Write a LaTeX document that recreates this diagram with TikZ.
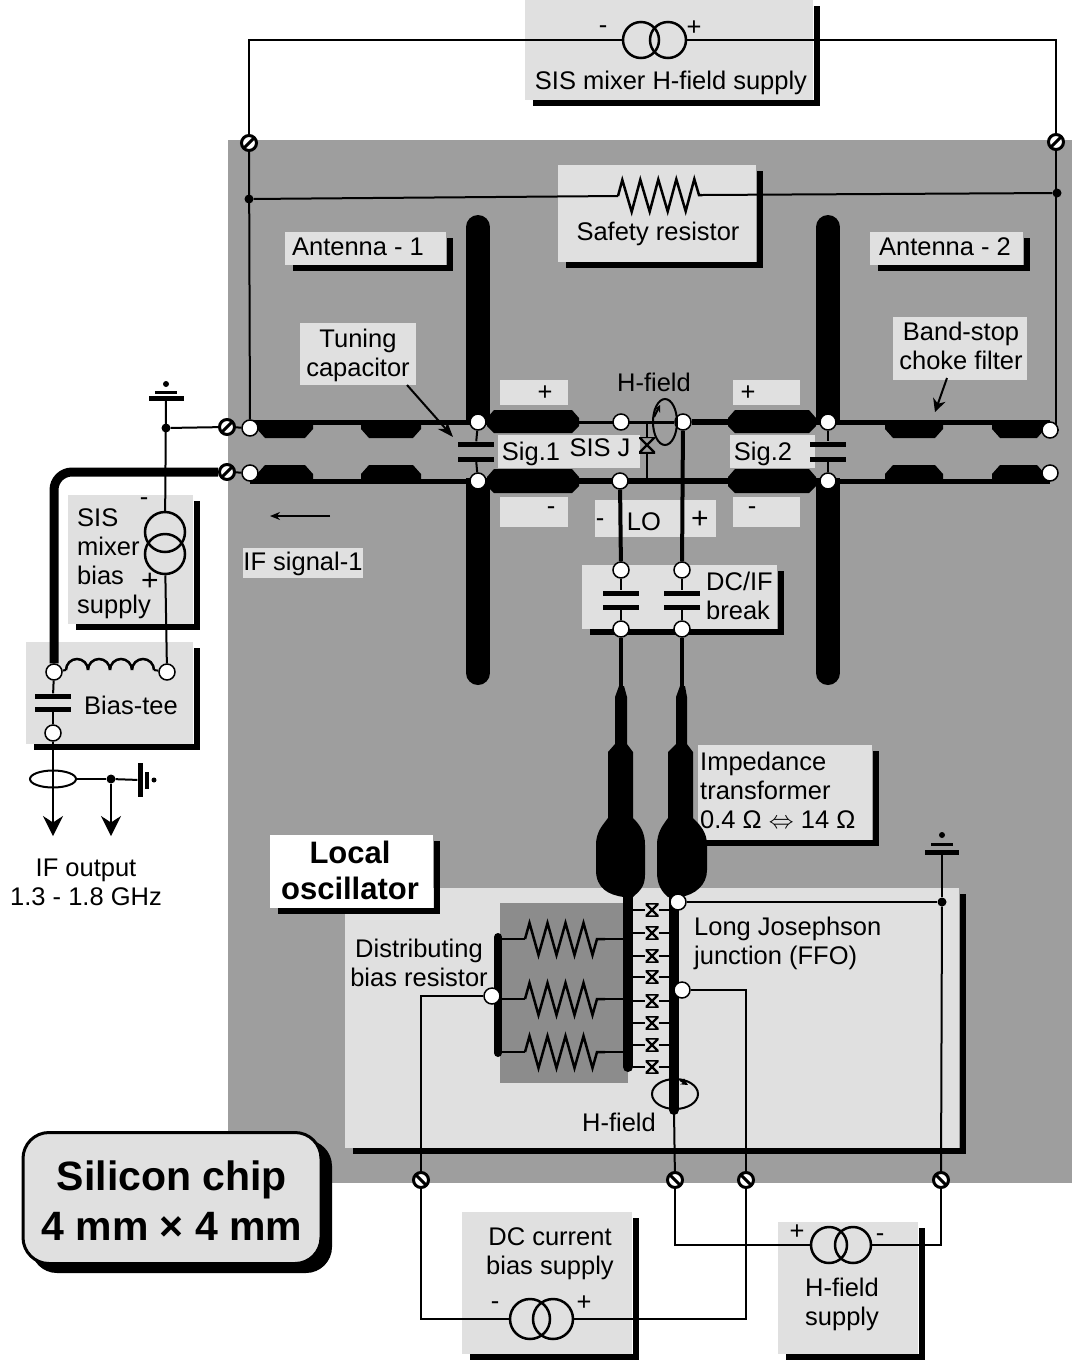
\documentclass[tikz,border=0pt]{standalone}
\usepackage{fontspec}
\setmainfont{Liberation Sans}
\usetikzlibrary{arrows.meta,decorations.pathmorphing,shapes.geometric}
\pgfdeclarelayer{back}
\pgfdeclarelayer{wires}
\pgfsetlayers{back,wires,main}
\definecolor{chipgray}{gray}{.62}
\definecolor{darkgray}{gray}{.55}
\definecolor{palegray}{gray}{.88}
\tikzset{
  tag/.style={inner sep=0pt,align=center,font=\fontsize{25.5}{29}\selectfont},
  sign/.style={inner sep=0pt,font=\fontsize{30}{30}\selectfont},
  wire/.style={line width=2pt},
  rail/.style={line width=5pt},
  feed/.style={line width=4pt},
  term/.style={circle,draw,fill=white,line width=1.5pt,minimum size=16pt,inner sep=0pt},
  dotnode/.style={circle,fill=black,minimum size=9pt,inner sep=0pt},
  screw/.style={circle,draw,fill=white,line width=3pt,minimum size=15pt,inner sep=0pt,
    path picture={\draw[line width=3pt] (path picture bounding box.south west) -- (path picture bounding box.north east);}},
  screwb/.style={circle,draw,fill=white,line width=3pt,minimum size=15pt,inner sep=0pt,
    path picture={\draw[line width=3pt] (path picture bounding box.north west) -- (path picture bounding box.south east);}},
  plate/.style={fill=black,minimum width=36pt,minimum height=5pt,inner sep=0pt},
  source/.style={circle,draw,line width=2.5pt,inner sep=0pt},
  jj/.style={minimum size=13pt,inner sep=0pt,
    path picture={\draw[line width=2.4pt] (path picture bounding box.south west) -- (path picture bounding box.north east) -- (path picture bounding box.north west) -- (path picture bounding box.south east) -- cycle;}},
  resistor/.style={decorate,decoration={zigzag,segment length=18pt,amplitude=16pt}},
  bigtip/.style={-{Stealth[length=20pt,width=20pt]}},
  shade/.style={line width=6pt}
}
\begin{document}
\begin{tikzpicture}[x=1pt,y=-1pt]
  \useasboundingbox (0,0) rectangle (1072,1361);
  % grounds and backgrounds
  \begin{pgfonlayer}{back}
    \fill[chipgray] (228,140) rectangle (1072,1183);
    \foreach \xa/\ya/\xb/\yb in {525/0/813/100,558/165/756/262,285/232/446/265,870/232/1023/265,
      698/745/872/840,582/565/777/629,68/495/193/624,26/642/193/744,
      462/1212/632/1354,778/1222/918/1354,345/888/959/1148} {
      \fill[palegray] (\xa,\ya) rectangle (\xb,\yb);
      \draw[shade] (\xa+8,\yb+3) -| (\xb+4,\ya+6);
    }
    \foreach \xa/\ya/\xb/\yb in {300/323/416/385,893/317/1027/380,243/548/363/578,500/380/568/405,
      733/380/800/405,500/497/568/527,733/497/800/527,595/500/716/537,498/435/640/468,730/435/815/468} {
      \fill[palegray] (\xa,\ya) rectangle (\xb,\yb);
    }
    \fill[darkgray] (500,903) rectangle (628,1083);
    \fill[white] (270,835) rectangle (433,908);
    \draw[shade] (278,911) -| (437,841);
    \fill[rounded corners=26pt] (31,1140) rectangle (332,1273);
  \end{pgfonlayer}

  % antenna terminals and rails
  \node[term] (tla) at (250,428) {};
  \node[term] (tlb) at (250,473) {};
  \node[term] (taa) at (478,422) {};
  \node[term] (tab) at (478,481) {};
  \node[term] (tma) at (621,422) {};
  \node[term,path picture={\fill ([xshift=-3pt]path picture bounding box.center) circle (7);}] (tmb) at (683,422) {};
  \node[term] (tmc) at (620,481) {};
  \node[term] (tca) at (828,422) {};
  \node[term] (tcb) at (828,481) {};
  \node[term] (tra) at (1050,430) {};
  \node[term] (trb) at (1050,473) {};
  \node[plate] (capaa) at (476,444) {};
  \node[plate] (capab) at (476,459) {};
  \node[plate] (capca) at (828,444) {};
  \node[plate] (capcb) at (828,459) {};

  % screws
  \node[screw] (scra) at (249,143) {};
  \node[screw] (scrb) at (1056,142) {};
  \node[screw] (scrc) at (227,427) {};
  \node[screw] (scrd) at (227,472) {};
  \node[screwb] (scre) at (421,1180) {};
  \node[screwb] (scrf) at (675,1180) {};
  \node[screwb] (scrg) at (746,1180) {};
  \node[screwb] (scrh) at (941,1180) {};

  % supplies
  \node[source,minimum size=36pt] (srcta) at (641,40) {};
  \node[source,minimum size=36pt] (srctb) at (668,40) {};
  \node[source,minimum size=40pt] (srcda) at (530,1319) {};
  \node[source,minimum size=40pt] (srcdb) at (553,1319) {};
  \node[source,minimum size=36pt] (srcha) at (829,1245) {};
  \node[source,minimum size=36pt] (srchb) at (853,1245) {};
  \node[source,minimum size=40pt] (srcsa) at (165,532) {};
  \node[source,minimum size=40pt] (srcsb) at (165,554) {};

  % safety resistor
  \node[dotnode] (sfa) at (249,199) {};
  \node[dotnode] (sfb) at (1057,193) {};
  \coordinate (rsa) at (618,196);
  \coordinate (rsb) at (702,195);

  % grounds, left side
  \node[dotnode,minimum size=6pt] (gla) at (166,384) {};
  \node[fill=black,minimum width=22pt,minimum height=3pt,inner sep=0pt] (glb) at (166,392) {};
  \node[fill=black,minimum width=35pt,minimum height=5pt,inner sep=0pt] (glc) at (166,398) {};
  \node[dotnode] (dotl) at (166,428) {};
  \node[term] (tbl) at (54,672) {};
  \node[term] (tbr) at (167,672) {};
  \node[term] (tbo) at (53,733) {};
  \node[plate] (capba) at (53,696) {};
  \node[plate] (capbb) at (53,709) {};
  \node[draw,ellipse,wire,minimum width=46pt,minimum height=17pt,inner sep=0pt] (ifring) at (53,779) {};
  \node[dotnode] (dotif) at (111,779) {};
  \node[fill=black,minimum width=5pt,minimum height=34pt,inner sep=0pt] (gifa) at (140,780) {};
  \node[fill=black,minimum width=4pt,minimum height=17pt,inner sep=0pt] (gifb) at (147,780) {};
  \node[dotnode,minimum size=5pt] (gifc) at (154,780) {};
  \coordinate (ifa) at (53,836);
  \coordinate (ifb) at (111,836);

  % DC/IF break
  \node[term] (tda) at (621,570) {};
  \node[term] (tdb) at (682,570) {};
  \node[term] (tdc) at (621,629) {};
  \node[term] (tdd) at (682,629) {};
  \node[plate] (capda) at (621,593) {};
  \node[plate] (capdb) at (621,607) {};
  \node[plate] (capea) at (682,593) {};
  \node[plate] (capeb) at (682,607) {};

  % local oscillator
  \node[term] (tfa) at (678,902) {};
  \node[term] (tfb) at (682,990) {};
  \node[term] (tfr) at (492,996) {};
  \node[dotnode] (dotg) at (942,902) {};
  \node[dotnode,minimum size=6pt] (gga) at (942,835) {};
  \node[fill=black,minimum width=22pt,minimum height=3pt,inner sep=0pt] (ggb) at (942,844) {};
  \node[fill=black,minimum width=34pt,minimum height=5pt,inner sep=0pt] (ggc) at (942,852) {};
  \foreach \y in {910,933,956,977,1001,1023,1045,1067} {
    \node[jj] (ffo\y) at (652,\y) {};
  }
  \node[jj,minimum size=16pt] (sisj) at (647,445) {};
  \node[draw,ellipse,wire,minimum width=24pt,minimum height=46pt,inner sep=0pt] (hfa) at (665,422) {};
  \node[draw,ellipse,wire,minimum width=46pt,minimum height=30pt,inner sep=0pt] (hfb) at (675,1094) {};

  \begin{pgfonlayer}{wires}
    % vertical antennas
    \foreach \x in {478,828} {
      \draw[line width=24pt,line cap=round] (\x,227) -- (\x,400);
      \draw[line width=24pt] (\x,395) -- (\x,425);
      \draw[line width=24pt] (\x,478) -- (\x,510);
      \draw[line width=24pt,line cap=round] (\x,505) -- (\x,673);
    }
    % rails
    \draw[rail] (tla |- taa) -- (taa);
    \draw[rail] (tlb |- tab) -- (tab);
    \draw[rail] (tca) -- (tra |- tca);
    \draw[rail] (tcb) -- (trb |- tcb);
    \draw[wire,line width=3pt] (taa) -- (tmb);
    \draw[rail,line width=6pt] (tmb) -- (tca);
    \draw[rail,line width=6pt] (tab) -- (tcb);
    \foreach \xa/\xb in {257/313,361/421,885/943,992/1045} {
      \fill (\xa,420) -- (\xb,420) -- (\xb,429) -- (\xb-8,438) -- (\xa+8,438) -- (\xa,429) -- cycle;
      \fill (\xa,482) -- (\xb,482) -- (\xb,474) -- (\xb-8,465) -- (\xa+8,465) -- (\xa,474) -- cycle;
    }
    \foreach \xa/\xb in {487/579,728/816} {
      \fill (\xa+7,410) -- (\xb-7,410) -- (\xb,418) -- (\xb,426) -- (\xb-7,433) -- (\xa+7,433) -- (\xa,426) -- (\xa,418) -- cycle;
      \fill (\xa+7,469) -- (\xb-7,469) -- (\xb,477) -- (\xb,486) -- (\xb-7,493) -- (\xa+7,493) -- (\xa,486) -- (\xa,477) -- cycle;
    }
    \draw[wire] (taa) -- (capaa);
    \draw[wire] (capab) -- (tab);
    \draw[wire] (tca) -- (capca);
    \draw[wire] (capcb) -- (tcb);
    \draw[wire] (sisj |- tma) -- (sisj);
    \draw[wire] (sisj) -- (sisj |- tmc);
    % chip supply wires
    \draw[wire] (scra) |- (srcta);
    \draw[wire] (scrb) |- (srctb);
    \draw[wire] (scra) -- (tla);
    \draw[wire] (scrb) |- (tra);
    \draw[wire] (sfa) -- (rsa);
    \draw[wire,line width=2.5pt,resistor] (rsa) -- (rsb);
    \draw[wire] (rsb) -- (sfb);
    % IF side
    \draw[wire] (glc) -- (srcsa);
    \draw[wire] (srcsb) -- (tbr);
    \draw[wire] (dotl) -- (scrc);
    \draw[wire] (scrc) -- (tla);
    \draw[wire] (scrd) -- (tlb);
    \draw[line width=9pt,rounded corners=18pt] (scrd) -| (tbl);
    \foreach \x in {66,88,110,132} {
      \draw[wire,line width=2.5pt] (\x,670) arc (180:360:11);
    }
    \draw[wire] (tbl) -- (66,670);
    \draw[wire] (154,670) -- (tbr);
    \draw[wire] (tbl) -- (capba);
    \draw[wire] (capbb) -- (tbo);
    \draw[wire,bigtip] (tbo) -- (ifa);
    \draw[wire] (ifring) -- (dotif);
    \draw[wire] (dotif) -- (gifa);
    \draw[wire,bigtip] (dotif) -- (ifb);
    % LO feed
    \draw[feed] (tmc) -- (tda);
    \draw[feed] (tmb) -- (tdb);
    \draw[wire] (tda) -- (capda);
    \draw[wire] (capdb) -- (tdc);
    \draw[wire] (tdb) -- (capea);
    \draw[wire] (capeb) -- (tdd);
    \draw[feed] (tdc) -- ++(0,62);
    \draw[feed] (tdd) -- ++(0,62);
    % impedance transformer
    \fill (619,686) -- (624,686) -- (627,697) -- (627,744) -- (633,752) -- (633,818)
      .. controls (640,825) and (645,832) .. (645,845) -- (645,875)
      .. controls (645,888) and (638,892) .. (633,897) -- (624,897)
      .. controls (608,895) and (596,888) .. (596,870) -- (596,845)
      .. controls (596,832) and (602,826) .. (608,818) -- (608,752) -- (615,744) -- (615,697) -- cycle;
    \fill (680,686) -- (685,686) -- (687,697) -- (687,744) -- (693,752) -- (693,818)
      .. controls (700,825) and (707,832) .. (707,845) -- (707,870)
      .. controls (707,885) and (695,895) .. (680,897) -- (668,897)
      .. controls (662,892) and (657,885) .. (657,872) -- (657,845)
      .. controls (657,832) and (663,825) .. (668,818) -- (668,752) -- (676,744) -- (676,697) -- cycle;
    % FFO
    \draw[line width=10pt,line cap=round] (628,897) -- (628,1067);
    \draw[line width=10pt,line cap=round] (674,897) -- (674,1110);
    \foreach \y in {910,933,956,977,1001,1023,1045,1067} {
      \draw[wire] (633,\y) -- (ffo\y);
      \draw[wire] (ffo\y) -- (669,\y);
    }
    \draw[line width=8pt,line cap=round] (498,937) -- (498,1053);
    \foreach \y in {939,999,1052} {
      \draw[wire] (498,\y) -- (525,\y);
      \draw[wire,line width=2.5pt,resistor] (525,\y) -- (605,\y);
      \draw[wire] (605,\y) -- (628,\y);
    }
    \draw[wire] (tfr) -| (scre);
    \draw[wire] (tfb) -| (scrg);
    \draw[wire] (tfa) -- (dotg);
    \draw[wire] (ggc) -- (dotg);
    \draw[wire] (dotg) -- (scrh);
    \draw[wire] (scrf) -- (674,1110);
    \draw[wire] (scre) |- (srcda);
    \draw[wire] (scrg) |- (srcdb);
    \draw[wire] (scrf) |- (srcha);
    \draw[wire] (scrh) |- (srchb);
    % label arrows
    \draw[wire,-{Stealth[length=16pt,width=12pt]}] (407,385) -- (453,437);
    \draw[wire,-{Stealth[length=13pt,width=13pt]}] (947,378) -- (935,412);
    \draw[wire,-{Stealth[length=10pt,width=8pt]}] (330,516) -- (270,516);
    \draw[wire,-{Stealth[length=7pt,width=7pt]}] (680,1080) -- (688,1085);
    \draw[wire,-{Stealth[length=7pt,width=7pt]}] (654,417) -- (660,405);
  \end{pgfonlayer}

  % labels
  \node[tag] (ltop) at (671,83) {SIS mixer H-field supply};
  \node[tag] (lsafe) at (658,234) {Safety resistor};
  \node[tag] (lanta) at (358,247) {Antenna - 1};
  \node[tag] (lantb) at (945,247) {Antenna - 2};
  \node[tag] (ltune) at (358,355) {Tuning\\capacitor};
  \node[tag] (lband) at (961,346) {Band-stop\\choke filter};
  \node[tag] (lhfa) at (654,382) {H-field};
  \node[tag] (lsiga) at (531,454) {Sig.1};
  \node[tag] (lsigb) at (763,454) {Sig.2};
  \node[tag] (lsis) at (600,448) {SIS J};
  \node[tag] (lplusa) at (545,393) {+};
  \node[tag] (lplusb) at (748,393) {+};
  \node[tag] (lminusa) at (551,511) {-};
  \node[tag] (lminusb) at (752,511) {-};
  \node[tag] (llomin) at (600,523) {-};
  \node[tag] (llo) at (644,522) {LO};
  \node[sign] (lloplus) at (700,520) {+};
  \node[tag] (lifsig) at (303,564) {IF signal-1};
  \node[tag,align=left,anchor=north west] (ldcif) at (706,572) {DC/IF\\break};
  \node[tag,align=left,anchor=north west] (limp) at (700,752) {Impedance\\transformer\\0.4 Ω $\Leftrightarrow$ 14 Ω};
  \node[tag,font=\fontsize{31}{36}\selectfont\bfseries] (lloc) at (350,870) {Local\\oscillator};
  \node[tag] (ldist) at (419,963) {Distributing\\bias resistor};
  \node[tag,align=left,anchor=north west] (lffo) at (694,917) {Long Josephson\\junction (FFO)};
  \node[tag] (lhfb) at (619,1122) {H-field};
  \node[tag,align=left,anchor=north west] (lsis2) at (77,508) {SIS\\mixer\\bias\\supply};
  \node[tag] (lsmin) at (144,502) {-};
  \node[sign] (lsplus) at (150,582) {+};
  \node[tag] (lbias) at (131,705) {Bias-tee};
  \node[tag] (lifout) at (86,882) {IF output\\1.3 - 1.8 GHz};
  \node[tag] (ldc) at (550,1254) {DC current\\bias supply};
  \node[tag] (lhsup) at (842,1304) {H-field\\supply};
  \node[tag] (ltmin) at (603,30) {-};
  \node[tag] (ltplus) at (694,28) {+};
  \node[tag] (ldmin) at (495,1306) {-};
  \node[tag] (ldplus) at (584,1303) {+};
  \node[tag] (lhplus) at (797,1232) {+};
  \node[tag] (lhmin) at (880,1238) {-};
  \node[draw,fill=palegray,line width=3pt,rounded corners=26pt,minimum width=298pt,minimum height=131pt] (chip) at (172,1198) {};
  \node[tag,font=\fontsize{41}{50}\selectfont\bfseries] (lchip) at (172,1201) {Silicon chip\\4 mm × 4 mm};
\end{tikzpicture}
\end{document}
